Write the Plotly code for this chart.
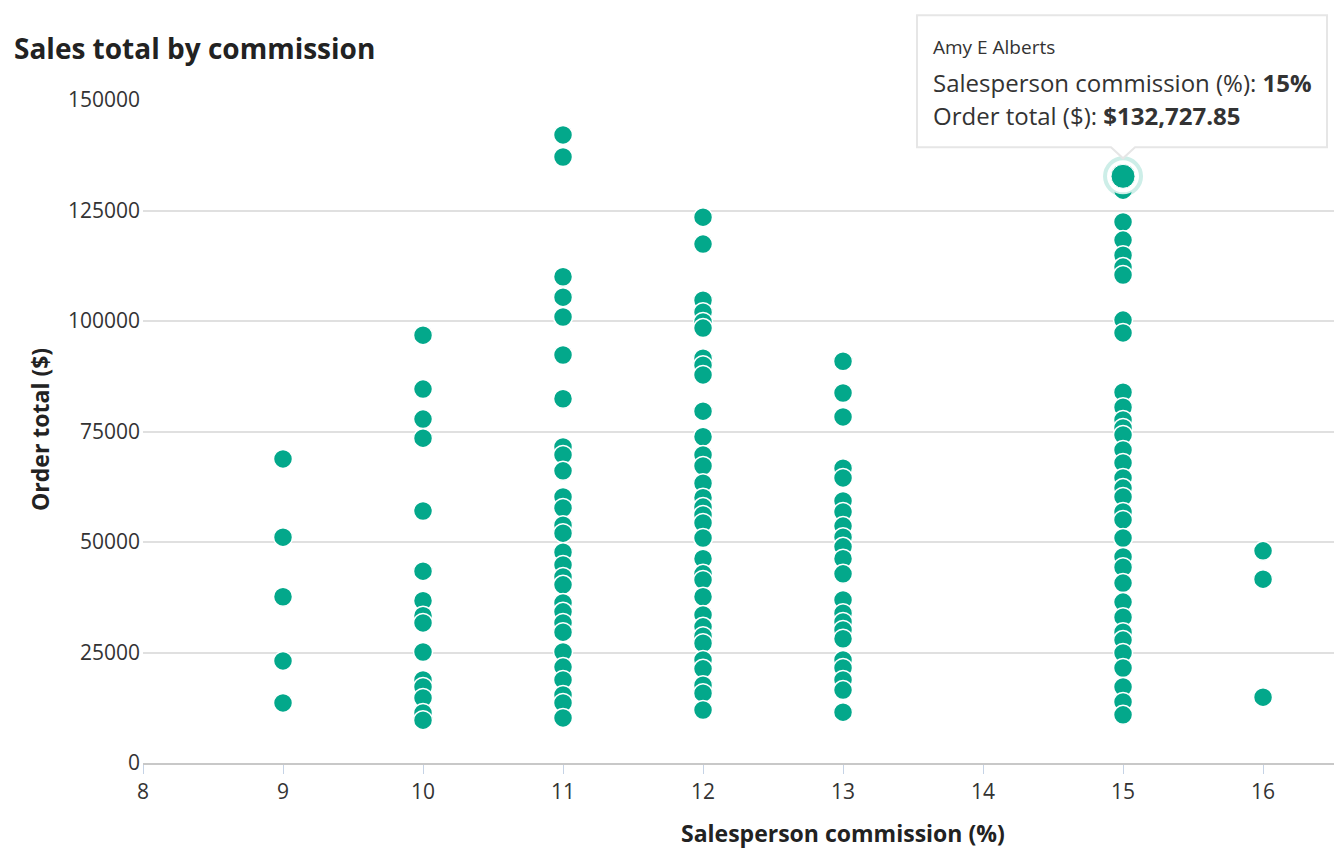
import plotly.graph_objects as go

# ---- data ----
commission_9 = [68800, 51100, 37600, 23100, 13600]
commission_10 = [96800, 84600, 77800, 73500, 57000, 43400, 36700, 33300, 31700,
                 25100, 18800, 17200, 14700, 11300, 9700]
commission_11 = [142100, 137100, 110000, 105400, 100900, 92300, 82400, 71500, 69700,
                 66100, 60200, 57700, 53800, 52000, 47700, 44800, 42100, 40300,
                 36200, 34200, 31700, 29600, 25100, 21700, 18800, 15400, 13600, 10200]
commission_12 = [123500, 117400, 104700, 102000, 99800, 98400, 91600, 90000, 87800,
                 79600, 73800, 69700, 67200, 63300, 60000, 57900, 56100, 54300,
                 50900, 46200, 42800, 41400, 37600, 33500, 30800, 28700, 27100,
                 23300, 21300, 17600, 15800, 12000]
commission_13 = [90900, 83700, 78300, 66700, 64500, 59300, 56800, 53600, 51100,
                 48900, 46200, 42800, 36900, 33900, 31900, 30100, 28100, 23300,
                 21500, 18800, 16500, 11500]
commission_15 = [129600, 122400, 118300, 114900, 112200, 110400, 100200, 97300,
                 83900, 80500, 77600, 75800, 74200, 70800, 67900, 64500, 62200,
                 60200, 56800, 55000, 50900, 46600, 44300, 40700, 36400, 33000,
                 29600, 27800, 24900, 21500, 17200, 13800, 10900]
commission_16 = [48000, 41600, 14900]

series = {9: commission_9, 10: commission_10, 11: commission_11, 12: commission_12,
          13: commission_13, 15: commission_15, 16: commission_16}

highlight_name = "Amy E Alberts"
highlight_x = 15
highlight_y = 132727.85

y_ticks = [0, 25000, 50000, 75000, 100000, 125000, 150000]
x_ticks = [8, 9, 10, 11, 12, 13, 14, 15, 16]
x_range = [8, 16.564]
y_range = [0, 150000]

TEAL = "#03a88b"
FONT = "Open Sans"

# page body has an 8px margin, so the figure is sized to fit inside the window
W, H = 1334, 854
ML, MR, MT, MB = 135, 0, 92, 99
PW, PH = W - ML - MR, H - MT - MB

xs, ys = [], []
for k, vals in series.items():
    xs += [k] * len(vals)
    ys += vals

fig = go.Figure()
fig.add_trace(go.Scatter(
    x=xs, y=ys, mode="markers",
    marker=dict(size=19, color=TEAL, line=dict(color="white", width=1.5)),
    hoverinfo="skip", showlegend=False, cliponaxis=False))
# highlighted point with halo ring
fig.add_trace(go.Scatter(
    x=[highlight_x], y=[highlight_y], mode="markers",
    marker=dict(size=36, color="white", line=dict(color="rgba(3,168,139,0.2)", width=4)),
    hoverinfo="skip", showlegend=False, cliponaxis=False))
fig.add_trace(go.Scatter(
    x=[highlight_x], y=[highlight_y], mode="markers",
    marker=dict(size=24, color=TEAL, line=dict(color="white", width=1)),
    hoverinfo="skip", showlegend=False, cliponaxis=False))

# tooltip box (pixel offsets anchored at highlighted point, in paper coords so not clipped)
hx = (highlight_x - x_range[0]) / (x_range[1] - x_range[0])
hy = (highlight_y - y_range[0]) / (y_range[1] - y_range[0])
fig.add_shape(type="path", xref="paper", yref="paper",
              xsizemode="pixel", ysizemode="pixel",
              xanchor=hx, yanchor=hy,
              path="M -206,29 L -12,29 L 0,18 L 12,29 L 204,29 L 204,161 L -206,161 Z",
              fillcolor="white", line=dict(color="#e6e6e6", width=2), layer="above")

fig.add_annotation(x=highlight_x, y=highlight_y, xref="x", yref="y",
                   text=highlight_name, showarrow=False, xanchor="left", yanchor="middle",
                   xshift=-192, yshift=129, font=dict(family=FONT, size=19, color="#333"))
fig.add_annotation(x=highlight_x, y=highlight_y, xref="x", yref="y",
                   text=f"Salesperson commission (%): <b>{highlight_x}%</b>", showarrow=False,
                   xanchor="left", yanchor="middle",
                   xshift=-192, yshift=94, font=dict(family=FONT, size=24, color="#333"))
fig.add_annotation(x=highlight_x, y=highlight_y, xref="x", yref="y",
                   text=f"Order total ($): <b>${highlight_y:,.2f}</b>", showarrow=False,
                   xanchor="left", yanchor="middle",
                   xshift=-192, yshift=61, font=dict(family=FONT, size=24, color="#333"))

# axis titles
fig.add_annotation(x=(843 - 8 - ML) / PW, y=-70 / PH, xref="paper", yref="paper",
                   text="<b>Salesperson commission (%)</b>", showarrow=False,
                   xanchor="center", yanchor="middle",
                   font=dict(family=FONT, size=23, color="#222"))
fig.add_annotation(x=(40 - 8 - ML) / PW, y=(763 - 430) / PH, xref="paper", yref="paper",
                   text="<b>Order total ($)</b>", showarrow=False, textangle=-90,
                   xanchor="center", yanchor="middle",
                   font=dict(family=FONT, size=23, color="#222"))

fig.update_layout(
    width=W, height=H,
    margin=dict(l=ML, r=MR, t=MT, b=MB),
    paper_bgcolor="white", plot_bgcolor="white",
    font=dict(family=FONT, color="#333"),
    title=dict(text="<b>Sales total by commission</b>", x=6 / W, xref="container",
               xanchor="left", y=1 - 41 / H, yanchor="middle",
               font=dict(family=FONT, size=28, color="#222")),
    xaxis=dict(range=x_range, tickvals=x_ticks, showgrid=False, zeroline=False,
               showline=True, linecolor="#c8c8c8", linewidth=2,
               ticks="outside", ticklen=9, tickwidth=1, tickcolor="#c5d3e6",
               tickfont=dict(family=FONT, size=21, color="#333")),
    yaxis=dict(range=y_range, tickvals=y_ticks, tickformat="d",
               showgrid=True, gridcolor="#e0e0e0", gridwidth=1.5, zeroline=False,
               ticks="", ticklabelstandoff=2,
               tickfont=dict(family=FONT, size=21, color="#333")),
    hovermode=False,
)

fig.write_html("out.html")
